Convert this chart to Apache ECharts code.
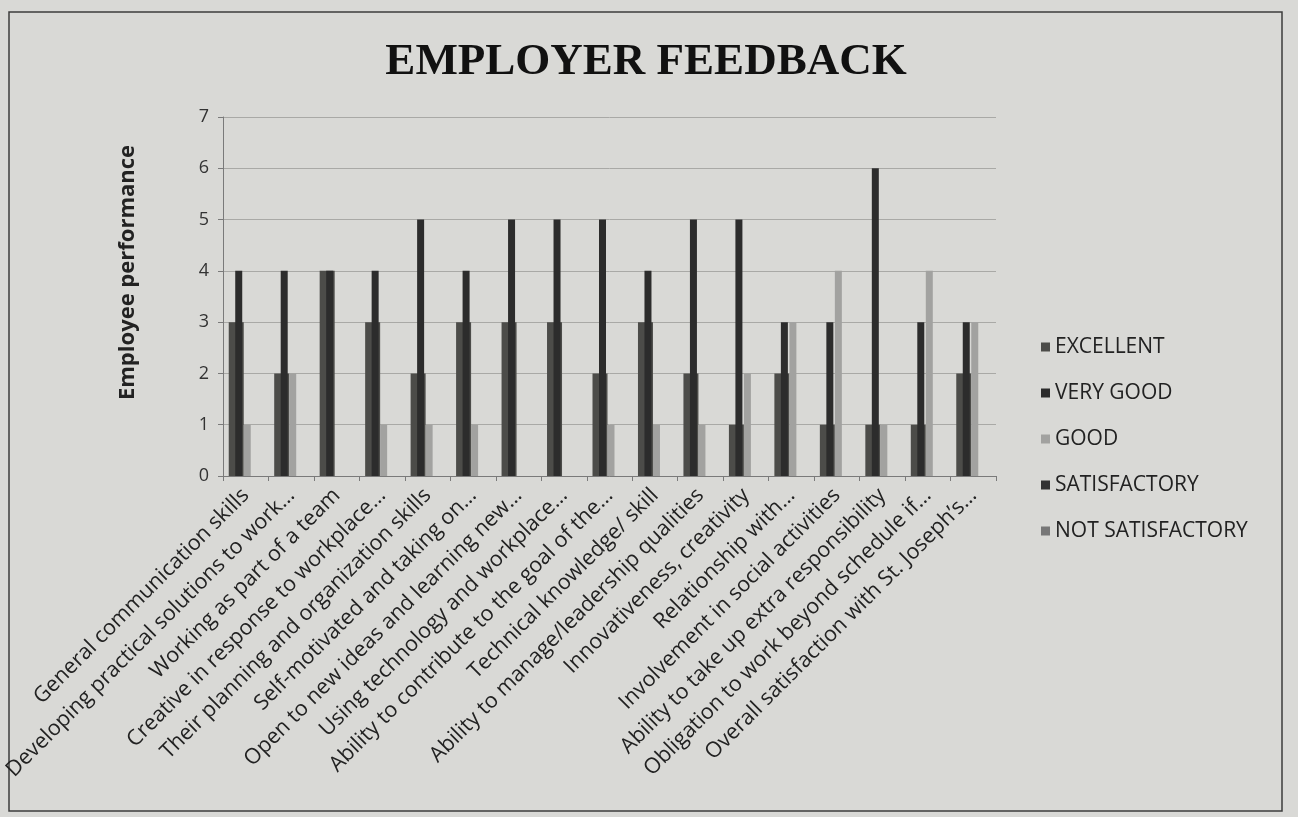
<!DOCTYPE html>
<html>
<head>
<meta charset="utf-8">
<script src="https://cdn.jsdelivr.net/npm/echarts@6/dist/echarts.min.js"></script>
<style>
  html, body { margin: 0; padding: 0; background: #d9d9d6; }
  #chart { width: 1298px; height: 817px; }
</style>
</head>
<body>
<div id="chart"></div>
<script>
const categories = [
  'General communication skills',
  'Developing practical solutions to work…',
  'Working as part of a team',
  'Creative in response to workplace…',
  'Their planning and organization skills',
  'Self-motivated and taking on…',
  'Open to new ideas and learning new…',
  'Using technology and workplace…',
  'Ability to contribute to the goal of the…',
  'Technical knowledge/ skill',
  'Ability to manage/leadership qualities',
  'Innovativeness, creativity',
  'Relationship with…',
  'Involvement in social activities',
  'Ability to take up extra responsibility',
  'Obligation to work beyond schedule if…',
  'Overall satisfaction with St. Joseph\u2019s…'
];
const seriesNames = ['EXCELLENT', 'VERY GOOD', 'GOOD', 'SATISFACTORY', 'NOT SATISFACTORY'];
const excellent       = [3, 2, 4, 3, 2, 3, 3, 3, 2, 3, 2, 1, 2, 1, 1, 1, 2];
const veryGood        = [4, 4, 4, 4, 5, 4, 5, 5, 5, 4, 5, 5, 3, 3, 6, 3, 3];
const good            = [1, 2, 0, 1, 1, 1, 0, 0, 1, 1, 1, 2, 3, 4, 1, 4, 3];
const satisfactory    = [0, 0, 0, 0, 0, 0, 0, 0, 0, 0, 0, 0, 0, 0, 0, 0, 0];
const notSatisfactory = [0, 0, 0, 0, 0, 0, 0, 0, 0, 0, 0, 0, 0, 0, 0, 0, 0];
const yMin = 0, yMax = 7, yStep = 1;

const colors = {
  'EXCELLENT': '#4c4c49',
  'VERY GOOD': '#2c2c2c',
  'GOOD': '#a2a2a0',
  'SATISFACTORY': '#333333',
  'NOT SATISFACTORY': '#777777'
};

const chart = echarts.init(document.getElementById('chart'), null, { renderer: 'canvas' });

const gridTop = 117, gridBottom = 341;
const option = {
  backgroundColor: '#d9d9d6',
  animation: false,
  title: {
    text: 'EMPLOYER FEEDBACK',
    left: 641,
    textAlign: 'center',
    top: 35,
    textStyle: {
      fontFamily: 'Liberation Serif',
      fontWeight: 'bold',
      fontSize: 45,
      color: '#111'
    }
  },
  graphic: [{
    type: 'rect',
    z: -1,
    shape: { x: 9, y: 12, width: 1273, height: 799 },
    style: { fill: 'none', stroke: '#3c3c3c', lineWidth: 1.5 }
  }],
  legend: {
    orient: 'vertical',
    left: 1036,
    top: 331,
    itemWidth: 9,
    itemHeight: 9,
    itemGap: 24,
    icon: 'rect',
    data: seriesNames,
    textStyle: { fontFamily: 'Open Sans', fontSize: 21, color: '#222', lineHeight: 22 }
  },
  grid: [
    { left: 223, right: 302, top: gridTop, bottom: gridBottom },
    { left: 216, right: 309, top: gridTop, bottom: gridBottom }
  ],
  xAxis: [
    {
      type: 'category',
      gridIndex: 0,
      data: categories,
      axisLine: { lineStyle: { color: '#7a7a7a', width: 1 } },
      axisTick: { show: true, length: 5, lineStyle: { color: '#7a7a7a' } },
      axisLabel: {
        interval: 0,
        rotate: 45,
        margin: 16,
        fontFamily: 'Open Sans',
        fontSize: 21.5,
        color: '#222'
      }
    },
    {
      type: 'category',
      gridIndex: 1,
      data: categories,
      show: false
    }
  ],
  yAxis: [
    {
      type: 'value',
      gridIndex: 0,
      min: yMin, max: yMax, interval: yStep,
      name: 'Employee performance',
      nameLocation: 'middle',
      nameRotate: 90,
      nameGap: 84,
      nameTextStyle: { fontFamily: 'Open Sans', fontWeight: 'bold', fontSize: 22, color: '#222', padding: [0, 0, 0, 48] },
      axisLine: { show: true, lineStyle: { color: '#7a7a7a', width: 1 } },
      axisTick: { show: true, length: 5, lineStyle: { color: '#7a7a7a' } },
      axisLabel: { margin: 14, fontFamily: 'Open Sans', fontSize: 18, color: '#333' },
      splitLine: { show: true, lineStyle: { color: '#a9a9a6', width: 1 } }
    },
    {
      type: 'value',
      gridIndex: 1,
      min: yMin, max: yMax, interval: yStep,
      show: false,
      splitLine: { show: false }
    }
  ],
  series: [
    { name: 'EXCELLENT', type: 'bar', xAxisIndex: 0, yAxisIndex: 0, data: excellent, barWidth: 15, barGap: '0%', itemStyle: { color: colors['EXCELLENT'] } },
    { name: 'VERY GOOD', type: 'bar', xAxisIndex: 1, yAxisIndex: 1, data: veryGood, barWidth: 7, itemStyle: { color: colors['VERY GOOD'] } },
    { name: 'GOOD', type: 'bar', xAxisIndex: 0, yAxisIndex: 0, data: good, barWidth: 7, barGap: '0%', itemStyle: { color: colors['GOOD'] } },
    { name: 'SATISFACTORY', type: 'bar', xAxisIndex: 0, yAxisIndex: 0, data: satisfactory, barWidth: 6, barGap: '0%', itemStyle: { color: colors['SATISFACTORY'] } },
    { name: 'NOT SATISFACTORY', type: 'bar', xAxisIndex: 0, yAxisIndex: 0, data: notSatisfactory, barWidth: 6, barGap: '0%', itemStyle: { color: colors['NOT SATISFACTORY'] } }
  ]
};
chart.setOption(option);
</script>
</body>
</html>
